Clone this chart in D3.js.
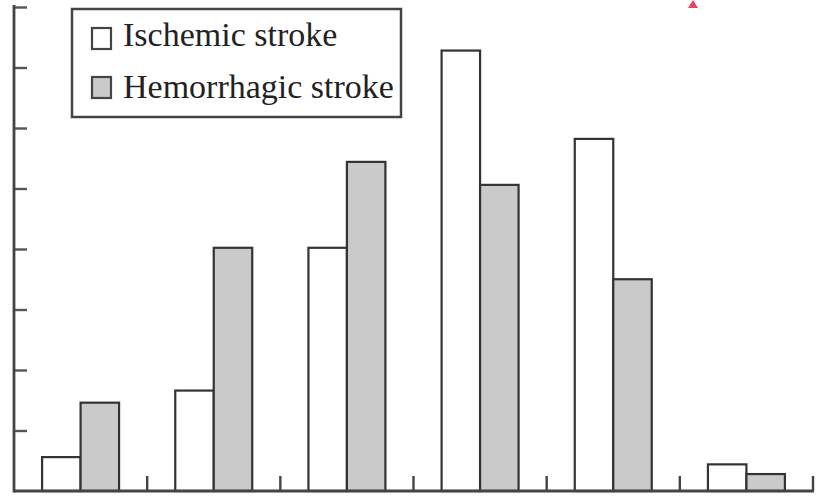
<!DOCTYPE html>
<html>
<head>
<meta charset="utf-8">
<script src="https://cdn.jsdelivr.net/npm/d3@7"></script>
<style>
  html, body { margin: 0; padding: 0; background: #fff; }
  svg { display: block; }
</style>
</head>
<body>
<svg id="chart" width="826" height="502"></svg>
<script>
// ---- data (y in axis units, 8 tick intervals of 5) ----
const categories = ["G1", "G2", "G3", "G4", "G5", "G6"];
const seriesNames = ["Ischemic stroke", "Hemorrhagic stroke"];
const ischemic = [2.8, 8.3, 20.1, 36.4, 29.1, 2.2];
const hemorrhagic = [7.3, 20.1, 27.2, 25.3, 17.5, 1.4];
const yTicks = [0, 5, 10, 15, 20, 25, 30, 35, 40];
const seriesFill = ["#ffffff", "#c9cac9"];

(function () {
const svg = d3.select("#chart");
const mLeft = 14, mRight = 813, mBottom = 491, mTop = 7;

const x0 = d3.scaleBand().domain(categories).range([mLeft, mRight]).padding(0);
const x1 = d3.scaleBand().domain(seriesNames).range([0, x0.bandwidth()])
  .paddingInner(0).paddingOuter(0.73);
const y = d3.scaleLinear().domain([0, 40]).range([mBottom, mTop]);

const rows = categories.map((c, i) => ({ cat: c, vals: [ischemic[i], hemorrhagic[i]] }));

// bars
const g = svg.append("g");
rows.forEach(r => {
  r.vals.forEach((v, j) => {
    g.append("rect")
      .attr("x", x0(r.cat) + x1(seriesNames[j]))
      .attr("y", y(v))
      .attr("width", x1.bandwidth())
      .attr("height", y(0) - y(v))
      .attr("fill", seriesFill[j])
      .attr("stroke", "#333")
      .attr("stroke-width", 2.2);
  });
});

// y axis (inward ticks, no labels)
const yAxis = d3.axisRight(y).tickValues(yTicks).tickSize(13).tickFormat("");
const yg = svg.append("g").attr("transform", `translate(${mLeft},0)`).call(yAxis);
yg.select(".domain").remove();
yg.selectAll(".tick line").attr("stroke", "#555").attr("stroke-width", 2.4);
yg.selectAll(".tick").filter(d => d === 0).remove();
svg.append("line").attr("x1", mLeft).attr("x2", mLeft).attr("y1", 5).attr("y2", mBottom + 1.5)
  .attr("stroke", "#444").attr("stroke-width", 2.8);

// x axis baseline + upward ticks at band boundaries
svg.append("line").attr("x1", mLeft).attr("x2", mRight + 1).attr("y1", mBottom).attr("y2", mBottom)
  .attr("stroke", "#444").attr("stroke-width", 3);
const bounds = categories.map(c => x0(c) + x0.bandwidth());
svg.append("g").selectAll("line").data(bounds).join("line")
  .attr("x1", d => d).attr("x2", d => d)
  .attr("y1", mBottom).attr("y2", mBottom - 15)
  .attr("stroke", "#444").attr("stroke-width", 2.4);

// legend
const lg = svg.append("g");
lg.append("rect").attr("x", 72).attr("y", 9).attr("width", 329).attr("height", 108)
  .attr("fill", "#fff").attr("stroke", "#444").attr("stroke-width", 2.5);
seriesNames.forEach((s, i) => {
  const yy = [28, 77][i];
  lg.append("rect").attr("x", 92).attr("y", yy).attr("width", 19).attr("height", 21)
    .attr("fill", seriesFill[i]).attr("stroke", "#444").attr("stroke-width", 2.2);
  lg.append("text").attr("x", 123).attr("y", [46, 98][i])
    .attr("font-family", "Liberation Serif, Times New Roman, serif")
    .attr("font-size", 34).attr("fill", "#222")
    .text(s);
});

// small pink marker at the top edge (present in the source crop)
svg.append("path").attr("d", "M693,0 L698,8 L688,8 Z").attr("fill", "#e8445f");
})();
</script>
</body>
</html>
